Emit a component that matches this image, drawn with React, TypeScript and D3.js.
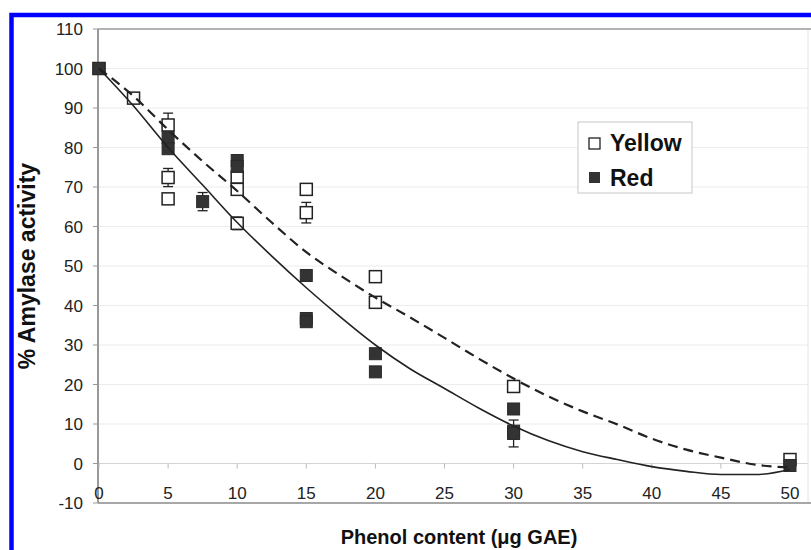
import * as d3 from 'd3'

const yellowX = [0, 2.5, 5, 5, 5, 10, 10, 10, 15, 15, 20, 20, 30, 50]
const yellowY = [100, 92.5, 85.7, 72.4, 67, 72.5, 69.4, 60.8, 69.4, 63.5, 47.3, 40.8, 19.5, 1]
const yellowErr = [0, 0, 3, 2.3, 0, 0, 0, 1.6, 0, 2.6, 0, 0, 0, 0]

const redX = [0, 5, 5, 7.5, 10, 10, 15, 15, 15, 20, 20, 30, 30, 30, 50]
const redY = [100, 82.5, 79.7, 66.3, 76.7, 75.2, 47.6, 36.7, 35.9, 27.8, 23.2, 13.8, 8.2, 7.6, -0.5]
const redErr = [0, 0, 0, 2.3, 0, 0, 0, 0, 0, 0, 0, 0, 0, 3.4, 0]

// Trendlines sampled every 2.5 units
const fitX = [0, 2.5, 5, 7.5, 10, 12.5, 15, 17.5, 20, 22.5, 25, 27.5, 30, 32.5, 35, 37.5, 40, 42.5, 45, 47.5, 50]
const redFit = [100, 90.5, 80, 70.5, 61, 52.5, 44.5, 37, 30, 24, 19, 14, 9.5, 5.8, 3, 1, -0.8, -2, -2.8, -2.8, -1.5]
const yellowFit = [100, 93, 84.5, 76.5, 69, 61, 53.5, 47.5, 42, 37, 31.8, 26.5, 21.5, 17, 13.2, 9.9, 6.3, 3.5, 1.5, -0.3, -1]

const xTicks = [0, 5, 10, 15, 20, 25, 30, 35, 40, 45, 50]
const yTicks = [-10, 0, 10, 20, 30, 40, 50, 60, 70, 80, 90, 100, 110]

const W = 811, H = 550
const PL = 98, PR = 808, PT = 29, PB = 503
const FONT = 'Arial, "Liberation Sans", Helvetica, sans-serif'
const SQ = 12

export default function App() {
  const x = d3.scaleLinear().domain([0, 50]).range([99, 790])
  const y = d3.scaleLinear().domain([-10, 110]).range([PB, PT])

  const line = (ys: number[]) =>
    d3.line<number>().x((_, i) => x(fitX[i])).y((v) => y(v)).curve(d3.curveMonotoneX)(ys) || ''

  const errBars = (xs: number[], ys: number[], es: number[]) =>
    xs.map((xv, i) => {
      if (!es[i]) return null
      const cx = x(xv), y1 = y(ys[i] + es[i]), y2 = y(ys[i] - es[i])
      return (
        <g key={i} stroke="#222" strokeWidth={1.3}>
          <line x1={cx} x2={cx} y1={y1} y2={y2} />
          <line x1={cx - 5} x2={cx + 5} y1={y1} y2={y1} />
          <line x1={cx - 5} x2={cx + 5} y1={y2} y2={y2} />
        </g>
      )
    })

  return (
    <svg width={W} height={H} style={{ position: 'absolute', left: 0, top: 0 }} fontFamily={FONT}>
      <rect width={W} height={H} fill="#fff" />
      {/* blue frame, cropped at right and bottom */}
      <rect x={11.5} y={15} width={W + 20} height={H + 20} fill="none" stroke="#0000ff" strokeWidth={4.5} />

      {/* gridlines */}
      {yTicks.filter((t) => t > -10 && t < 110).map((t) => (
        <line key={t} x1={PL} x2={PR} y1={y(t)} y2={y(t)} stroke={t === 0 ? '#d4d4d4' : '#ececec'} strokeWidth={1.2} />
      ))}
      <line x1={PR} x2={PR} y1={PT} y2={PB} stroke="#e4e4e4" />
      <line x1={PL} x2={W} y1={PT} y2={PT} stroke="#9a9a9a" strokeWidth={1.5} />
      <line x1={PL} x2={W} y1={PB} y2={PB} stroke="#8a8a8a" strokeWidth={1.5} />
      <line x1={PL} x2={PL} y1={PT} y2={PB} stroke="#999" strokeWidth={2} />

      {/* y ticks + labels */}
      {yTicks.map((t) => (
        <g key={t}>
          <line x1={PL - 5} x2={PL} y1={y(t)} y2={y(t)} stroke="#999" />
          <text x={83} y={y(t)} dy="0.36em" textAnchor="end" fontSize={17} fill="#222">{t}</text>
        </g>
      ))}
      {/* x ticks at zero line + labels */}
      {xTicks.map((t) => (
        <g key={t}>
          <line x1={x(t)} x2={x(t)} y1={y(0)} y2={y(0) + 5} stroke="#bbb" />
          <text x={x(t)} y={499} textAnchor="middle" fontSize={17} fill="#222">{t}</text>
        </g>
      ))}

      {/* markers */}
      {errBars(yellowX, yellowY, yellowErr)}
      {errBars(redX, redY, redErr)}
      {yellowX.map((xv, i) => (
        <rect key={'y' + i} x={x(xv) - SQ / 2} y={y(yellowY[i]) - SQ / 2} width={SQ} height={SQ} fill="#fff" stroke="#222" strokeWidth={1.5} />
      ))}
      {redX.map((xv, i) => (
        <rect key={'r' + i} x={x(xv) - SQ / 2} y={y(redY[i]) - SQ / 2} width={SQ} height={SQ} fill="#333" stroke="#2a2a2a" strokeWidth={1} />
      ))}

      {/* trendlines */}
      <path d={line(yellowFit)} fill="none" stroke="#222" strokeWidth={2.2} strokeDasharray="10,6" />
      <path d={line(redFit)} fill="none" stroke="#222" strokeWidth={1.6} />

      {/* legend */}
      <rect x={578} y={122} width={114} height={71} fill="#fff" stroke="#d0d0d0" strokeWidth={1.2} />
      <rect x={589} y={138} width={11} height={11} fill="#fff" stroke="#222" strokeWidth={1.3} />
      <text x={610} y={151} fontSize={23} fontWeight="bold" fill="#111">Yellow</text>
      <rect x={589} y={172} width={11} height={11} fill="#333" />
      <text x={610} y={186} fontSize={23} fontWeight="bold" fill="#111">Red</text>

      {/* axis titles */}
      <text x={459} y={544} textAnchor="middle" fontSize={20} fontWeight="bold" fill="#111">Phenol content (μg GAE)</text>
      <text transform={`translate(35,266) rotate(-90)`} textAnchor="middle" fontSize={23} fontWeight="bold" fill="#111">% Amylase activity</text>
    </svg>
  )
}
